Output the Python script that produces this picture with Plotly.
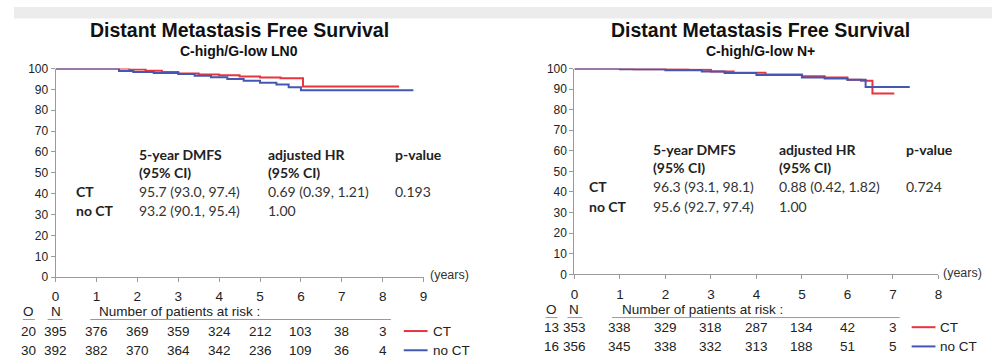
import plotly.graph_objects as go

# ---- data ----
# left panel: C-high/G-low LN0
ln0_ct_t = [0, 1.8, 2.2, 2.6, 3.0, 3.5, 4.0, 4.5, 5.0, 5.5, 6.05, 8.4]
ln0_ct_s = [100, 99.5, 99.0, 98.4, 97.6, 97.2, 96.8, 96.2, 95.7, 95.4, 91.4, 91.4]
ln0_noct_t = [0, 1.55, 1.9, 2.4, 3.0, 3.4, 3.8, 4.2, 4.6, 5.0, 5.4, 5.7, 6.0, 8.75]
ln0_noct_s = [100, 98.8, 98.3, 97.9, 97.4, 96.6, 95.8, 95.0, 94.2, 93.2, 92.3, 91.0, 89.6, 89.6]

# right panel: C-high/G-low N+
np_ct_t = [0, 1.3, 2.5, 3.0, 3.5, 4.2, 5.0, 5.5, 6.0, 6.3, 6.55, 7.03]
np_ct_s = [100, 99.7, 99.4, 98.6, 97.9, 97.1, 96.3, 95.6, 94.6, 94.1, 87.9, 87.9]
np_noct_t = [0, 1.0, 2.0, 2.8, 3.3, 4.0, 5.0, 5.5, 6.0, 6.4, 7.37]
np_noct_s = [100, 99.6, 99.2, 98.6, 97.8, 96.8, 95.6, 95.1, 94.6, 91.0, 91.0]

ln0_years = [0, 1, 2, 3, 4, 5, 6, 7, 8]
ln0_ct_risk = [395, 376, 369, 359, 324, 212, 103, 38, 3]
ln0_noct_risk = [392, 382, 370, 364, 342, 236, 109, 36, 4]
ln0_obs = [20, 30]

np_years = [0, 1, 2, 3, 4, 5, 6, 7]
np_ct_risk = [353, 338, 329, 318, 287, 134, 42, 3]
np_noct_risk = [356, 345, 338, 332, 313, 188, 51, 5]
np_obs = [13, 16]

ln0_table = [["95.7 (93.0, 97.4)", "0.69 (0.39, 1.21)", "0.193"],
             ["93.2 (90.1, 95.4)", "1.00", ""]]
np_table = [["96.3 (93.1, 98.1)", "0.88 (0.42, 1.82)", "0.724"],
            ["95.6 (92.7, 97.4)", "1.00", ""]]

RED = "#e8353d"
BLUE = "#4457b2"
W, H = 996, 364


def px(x):
    return x / W


def py(y):
    return 1 - y / H


fig = go.Figure()

for t, s, c, ax in [(ln0_ct_t, ln0_ct_s, RED, "x"), (ln0_noct_t, ln0_noct_s, BLUE, "x"),
                    (np_ct_t, np_ct_s, RED, "x2"), (np_noct_t, np_noct_s, BLUE, "x2")]:
    fig.add_trace(go.Scatter(x=t, y=s, mode="lines", line=dict(color=c, width=2, shape="hv"),
                             xaxis=ax, yaxis="y" if ax == "x" else "y2", showlegend=False,
                             hoverinfo="skip"))

ARIAL = "Liberation Sans, Arial"
CAL = "Lato, Carlito, sans-serif"

axis_common = dict(showline=True, linecolor="#9a9a9a", linewidth=1, ticks="outside",
                   ticklen=4, tickcolor="#9a9a9a", showgrid=False, zeroline=False)
xfont = dict(family=ARIAL, size=13.5, color="#222")
yfont = dict(family=ARIAL, size=12, color="#222")

fig.update_layout(
    width=W, height=H, margin=dict(l=0, r=0, t=0, b=0),
    paper_bgcolor="white", plot_bgcolor="white",
    xaxis=dict(domain=[px(52), px(423)], range=[0, 9], dtick=1, anchor="y", tickfont=xfont,
               ticklabelstandoff=3, **axis_common),
    yaxis=dict(domain=[py(281), py(64)], range=[0, 100], dtick=10, anchor="x", tickfont=yfont, **axis_common),
    xaxis2=dict(domain=[px(575), px(942)], range=[0, 8], dtick=1, anchor="y2", tickfont=xfont,
                ticklabelstandoff=3, **axis_common),
    yaxis2=dict(domain=[py(278), py(64)], range=[0, 100], dtick=10, anchor="x2", tickfont=yfont, **axis_common),
)

ann = []
shapes = []


def txt(x, y, s, size=13.5, font=ARIAL, color="#222", xanchor="left", xref="paper"):
    ann.append(dict(x=x if xref != "paper" else px(x), y=py(y), xref=xref, yref="paper",
                    text=s, showarrow=False, xanchor=xanchor, yanchor="middle", borderpad=0,
                    font=dict(family=font, size=size, color=color)))


def hline(x0, x1, y, color="#999", width=1):
    shapes.append(dict(type="line", xref="paper", yref="paper", x0=px(x0), x1=px(x1),
                       y0=py(y), y1=py(y), line=dict(color=color, width=width)))


# faint grey band at the top of the slide
shapes.append(dict(type="rect", xref="paper", yref="paper", x0=px(10), x1=1, y0=py(12), y1=1,
                   fillcolor="#ececec", line=dict(width=0), layer="below"))

panels = [
    dict(cx=237, sub="C-high/G-low LN0", xa="x", years=ln0_years, ct=ln0_ct_risk,
         noct=ln0_noct_risk, obs=ln0_obs, table=ln0_table,
         lab=72, c1=135, c2=265, c3=393, ty=153, hy=317, ry=[337, 357], ox=25,
         nstart=95, ul=(87, 390), oul=(19, 31), nul=(44, 59), leg=(403, 427), yrs=(428, 279)),
    dict(cx=763, sub="C-high/G-low N+", xa="x2", years=np_years, ct=np_ct_risk,
         noct=np_noct_risk, obs=np_obs, table=np_table,
         lab=589, c1=653, c2=780, c3=908, ty=148, hy=315, ry=[333, 353], ox=552,
         nstart=622, ul=(613, 903), oul=(546, 558), nul=(568, 583), leg=(915, 939), yrs=(946, 277)),
]

for p in panels:
    txt(p["cx"], 24, "<b>Distant Metastasis Free Survival</b>", size=19.5, xanchor="center", color="#111")
    txt(p["cx"], 46, "<b>" + p["sub"] + "</b>", size=14, xanchor="center", color="#111")

    # summary table
    ty = p["ty"]
    txt(p["c1"], ty, "<b>5-year DMFS</b>", size=14, font=CAL)
    txt(p["c1"], ty + 19, "<b>(95% CI)</b>", size=14, font=CAL)
    txt(p["c2"], ty, "<b>adjusted HR</b>", size=14, font=CAL)
    txt(p["c2"], ty + 19, "<b>(95% CI)</b>", size=14, font=CAL)
    txt(p["c3"], ty, "<b>p-value</b>", size=14, font=CAL)
    for i, (name, row) in enumerate(zip(["CT", "no CT"], p["table"])):
        yy = ty + 39 + i * 20
        txt(p["lab"], yy, "<b>" + name + "</b>", size=14, font=CAL)
        txt(p["c1"], yy, row[0], size=14, font=CAL, color="#333")
        txt(p["c2"], yy, row[1], size=14, font=CAL, color="#333")
        txt(p["c3"], yy, row[2], size=14, font=CAL, color="#333")

    # years label
    txt(p["yrs"][0], p["yrs"][1], "(years)", size=12.5, color="#333")

    # at-risk table
    hy = p["hy"]
    txt(p["ox"], hy, "O", xanchor="center")
    txt(0, hy, "N", xanchor="center", xref=p["xa"])
    txt(p["nstart"], hy, "Number of patients at risk :")
    hline(p["oul"][0], p["oul"][1], hy + 8)
    hline(p["nul"][0], p["nul"][1], hy + 8)
    hline(p["ul"][0], p["ul"][1], hy + 8)
    for r, (risk, o, col, name) in enumerate([(p["ct"], p["obs"][0], RED, "CT"),
                                               (p["noct"], p["obs"][1], BLUE, "no CT")]):
        yy = p["ry"][r]
        txt(p["ox"], yy, str(o), xanchor="center")
        for yr, v in zip(p["years"], risk):
            txt(yr, yy, str(v), xanchor="center", xref=p["xa"])
        hline(p["leg"][0], p["leg"][1], yy, color=col, width=2)
        txt(p["leg"][1] + 4, yy, name)

fig.update_layout(annotations=ann, shapes=shapes)
# drop the browser's default 8px body margin so the figure sits at the window's corner
fig.write_html("out.html", post_script="document.body.style.margin='0';",
               config={"displayModeBar": False})
